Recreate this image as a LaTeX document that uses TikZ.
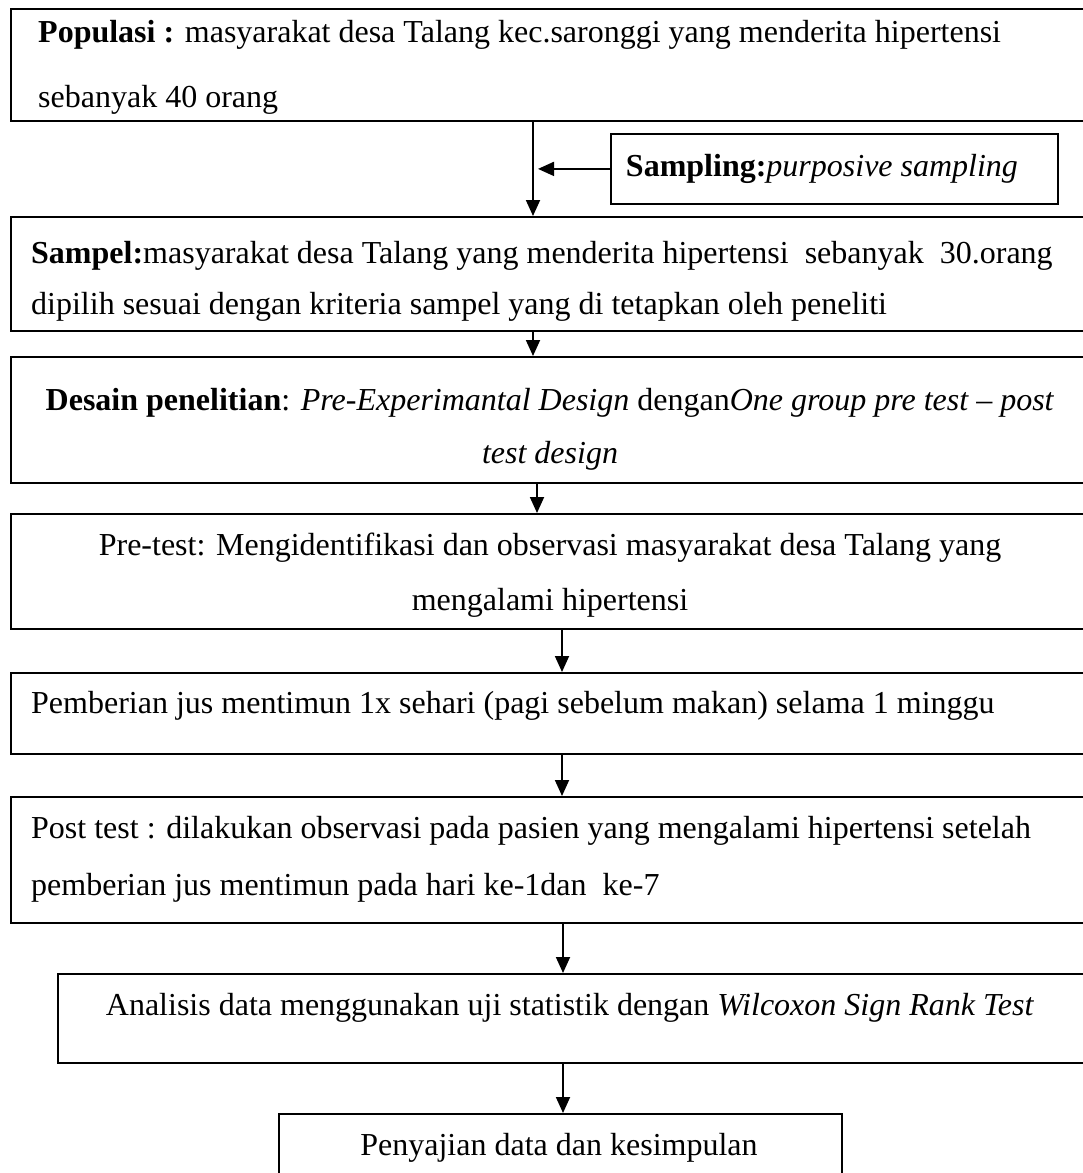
\documentclass[tikz,border=0pt]{standalone}
\usepackage{fontspec}
\setmainfont{Liberation Serif}
\usetikzlibrary{arrows.meta}
\newcommand{\fsz}{\fontsize{32}{38}\selectfont}
\begin{document}
\begin{tikzpicture}[x=1pt,y=-1pt,
  box/.style={draw, line width=1.8pt, inner sep=0pt, anchor=north west},
  txl/.style={font=\fsz, inner sep=0pt, anchor=base west},
  txc/.style={font=\fsz, inner sep=0pt, anchor=base},
  arr/.style={line width=1.8pt, -{Triangle[width=14pt,length=16pt]}}]
\useasboundingbox (0,0) rectangle (1082,1173);
% boxes
\node[box, minimum width=1090pt, minimum height=112pt] (pop) at (10,8) {};
\node[box, minimum width=447pt, minimum height=70pt] (samp) at (610,133) {};
\node[box, minimum width=1090pt, minimum height=114pt] (sam) at (10,216) {};
\node[box, minimum width=1090pt, minimum height=126pt] (des) at (10,356) {};
\node[box, minimum width=1090pt, minimum height=115pt] (pre) at (10,513) {};
\node[box, minimum width=1090pt, minimum height=81pt] (pem) at (10,672) {};
\node[box, minimum width=1090pt, minimum height=126pt] (post) at (10,796) {};
\node[box, minimum width=1043pt, minimum height=89pt] (ana) at (57,973) {};
\node[box, minimum width=563pt, minimum height=80pt] (pen) at (278,1113) {};
% texts
\node[txl] (t1a) at (38,42) {\textbf{Populasi :} masyarakat desa Talang kec.saronggi yang menderita hipertensi};
\node[txl] (t1b) at (38,107) {sebanyak 40 orang};
\node[txc] (t2) at (822,176) {\textbf{Sampling:}\textit{purposive sampling}};
\node[txl] (t3a) at (31,263) {\textbf{Sampel:}masyarakat desa Talang yang menderita hipertensi\ \ sebanyak\ \ 30.orang};
\node[txl] (t3b) at (31,314) {dipilih sesuai dengan kriteria sampel yang di tetapkan oleh peneliti};
\node[txc] (t4a) at (550,410) {\textbf{Desain penelitian}: \textit{Pre-Experimantal Design} dengan\textit{One group pre test – post}};
\node[txc] (t4b) at (550,463) {\textit{test design}};
\node[txc] (t5a) at (550,555) {Pre-test: Mengidentifikasi dan observasi masyarakat desa Talang yang};
\node[txc] (t5b) at (550,610) {mengalami hipertensi};
\node[txl] (t6) at (31,713) {Pemberian jus mentimun 1x sehari (pagi sebelum makan) selama 1 minggu};
\node[txl] (t7a) at (31,838) {Post test : dilakukan observasi pada pasien yang mengalami hipertensi setelah};
\node[txl] (t7b) at (31,895) {pemberian jus mentimun pada hari ke-1dan\ \ ke-7};
\node[txc] (t8) at (570,1015) {Analisis data menggunakan uji statistik dengan \textit{Wilcoxon Sign Rank Test}};
\node[txc] (t9) at (559,1155) {Penyajian data dan kesimpulan};
% arrow columns
\coordinate (xa) at (533,0);
\coordinate (xb) at (537,0);
\coordinate (xc) at (562,0);
\coordinate (xd) at (563,0);
\coordinate (sj) at (538,0);
% connectors
\draw[arr] (xa |- pop.south) -- (xa |- sam.north);
\draw[arr] (samp.west) -- (sj |- samp.west);
\draw[arr] (xa |- sam.south) -- (xa |- des.north);
\draw[arr] (xb |- des.south) -- (xb |- pre.north);
\draw[arr] (xc |- pre.south) -- (xc |- pem.north);
\draw[arr] (xc |- pem.south) -- (xc |- post.north);
\draw[arr] (xd |- post.south) -- (xd |- ana.north);
\draw[arr] (xd |- ana.south) -- (xd |- pen.north);
\end{tikzpicture}
\end{document}
